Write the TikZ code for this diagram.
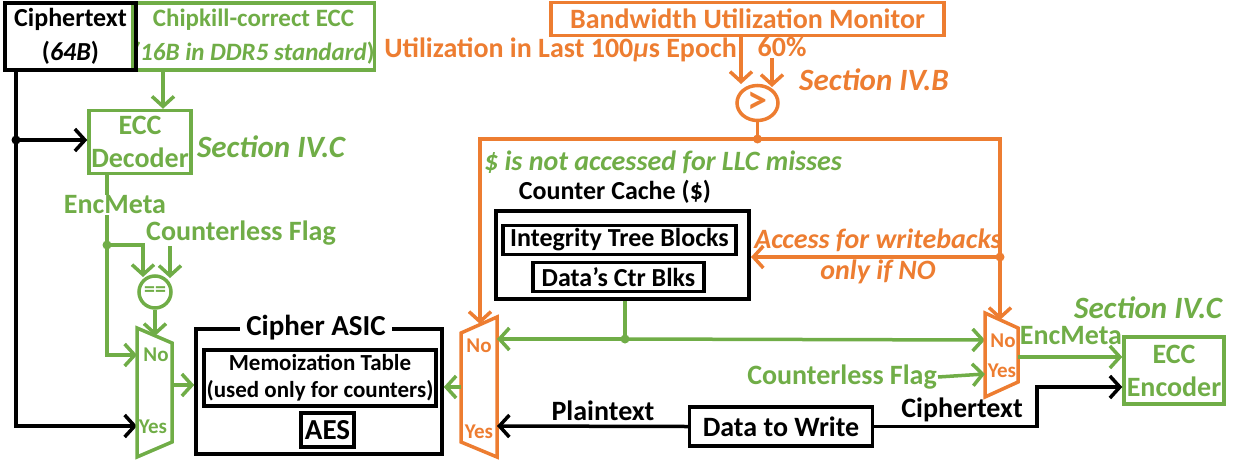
\documentclass[tikz,border=0pt]{standalone}
\usepackage{fontspec}
\setmainfont{Carlito}
\usetikzlibrary{arrows.meta,shapes.geometric}
\definecolor{grn}{HTML}{70AD47}
\definecolor{org}{HTML}{ED7D31}
\begin{document}
\begin{tikzpicture}[x=1pt,y=-1pt,
  lw/.style={line width=3.5pt},
  arr/.style={lw,-{Straight Barb[length=10pt,width=22pt]}},
  fA/.style={font=\bfseries\fontsize{28}{33}\selectfont},
  fC/.style={font=\bfseries\fontsize{26}{34}\selectfont},
  fB/.style={font=\bfseries\fontsize{26}{28}\selectfont},
  fM/.style={font=\bfseries\fontsize{23}{27}\selectfont},
  fI/.style={font=\bfseries\itshape\fontsize{28}{32}\selectfont},
  fSec/.style={font=\bfseries\itshape\fontsize{31}{33}\selectfont},
  fS/.style={font=\bfseries\fontsize{21}{23}\selectfont},
  box/.style={draw, lw, inner sep=0pt, align=center, fA},
  lbl/.style={inner sep=1pt, align=center},
  dot/.style={circle, fill, inner sep=0pt, minimum size=9pt}
]
\useasboundingbox (0,0) rectangle (1233,461);

% ---------- top left ----------
\node[box, fC, draw=grn, text=grn, minimum width=231pt, minimum height=67pt, font=\bfseries\fontsize{25}{34}\selectfont] (chip) at (253.5,36.5)
  {Chipkill-correct ECC\\{\itshape (16B in DDR5 standard})};
\node[box, fC, line width=4.5pt, minimum width=131pt, minimum height=67pt] (ct) at (70.5,36.5)
  {Ciphertext\\(\textit{64B})};
\node[box, draw=grn, text=grn, minimum width=102pt, minimum height=63pt] (dec) at (140,142) {ECC\\Decoder};
\node[lbl, fSec, text=grn] (secC1) at (271,147) {Section IV.C};

\draw[arr, grn] (chip.south -| 163,0) -- (dec.north -| 163,0);

\coordinate (j1) at (16,140);
\coordinate (mlYes) at (137,426);
\coordinate (mlNo) at (137,355);
\coordinate (mlOut) at (172,385);
\draw[arr] (ct.south -| j1) -- (16,426) -- (mlYes);
\node[dot] (j1d) at (j1) {};
\draw[arr] (j1) -- (dec.west |- j1);

\coordinate (j2) at (107,245);
\draw[lw, grn] (dec.south -| j2) -- (j2);
\node[lbl, fA, text=grn, fill=white] (em1) at (115,205) {EncMeta};
\node[lbl, fA, text=grn, fill=white] (cf1) at (241,233) {Counterless Flag};
\node[dot, grn] (j2d) at (j2) {};
\node[circle, draw=grn, lw, minimum size=32pt, inner sep=0pt, text=grn, font=\bfseries\fontsize{22}{22}\selectfont] (eq) at (155,292) {==};
\draw[arr, grn] (j2) -- (143,245) -- (143,277);
\draw[arr, grn] (cf1.south -| 170,0) -- (170,278);
\draw[arr, grn] (j2) |- (mlNo);
\draw[arr, grn] (eq.south) -- (155,336);

% left mux (green)
\draw[grn, lw] (137,328) -- (172,343) -- (172,442) -- (137,457) -- cycle;
\node[lbl, fS, text=grn] (mlNoT) at (156,355) {No};
\node[lbl, fS, text=grn] (mlYesT) at (153,427) {Yes};

% Cipher ASIC
\node[box, minimum width=246pt, minimum height=125pt] (asic) at (319,391.5) {};
\node[lbl, fA, fill=white, inner sep=6pt, font=\bfseries\fontsize{29}{33}\selectfont] (asicT) at (316,328) {Cipher ASIC};
\node[box, fM, minimum width=232pt, minimum height=56pt] (memo) at (320,378)
  {Memoization Table\\(used only for counters)};
\node[box, minimum width=53pt, minimum height=34pt, font=\bfseries\fontsize{29}{33}\selectfont] (aes) at (327.5,430) {AES};
\draw[arr, grn] (mlOut) -- (asic.west |- mlOut);

% middle orange mux
\draw[org, lw] (461,333) -- (497,317) -- (497,457) -- (461,442) -- cycle;
\coordinate (mmTop) at (480,324);
\coordinate (mmNo) at (497,339);
\coordinate (mmYes) at (497,426);
\coordinate (mmOut) at (461,387);
\node[lbl, fS, text=org] (mmNoT) at (479,346) {No};
\node[lbl, fS, text=org] (mmYesT) at (479,432) {Yes};
\draw[arr, grn] (mmOut) -- (asic.east |- mmOut);

% monitor
\node[box, draw=org, text=org, minimum width=393pt, minimum height=33pt] (mon) at (747.5,19) {Bandwidth Utilization Monitor};
\node[lbl, fA, text=org, anchor=east] (util) at (738,50) {Utilization in Last 100{\itshape μ}s Epoch};
\node[lbl, fA, text=org] (pct) at (782,47) {60\%};
\node[ellipse, draw=org, lw, minimum width=41pt, minimum height=35pt, inner sep=0pt, text=org] (gt) at (757.5,103) {};
\node[text=org, inner sep=0pt, font=\bfseries\fontsize{40}{40}\selectfont] (gtT) at (gt.center) {>};
\node[lbl, fSec, text=org] (secB) at (874,80) {Section IV.B};
\draw[arr, org] (mon.south -| 741,0) -- (741,84);
\draw[arr, org] (pct.south -| 772,0) -- (772,87);

\coordinate (jt) at (757.5,139);
\coordinate (mrTop) at (1000,320);
\draw[lw, org] (gt.south) -- (jt);
\draw[arr, org] (jt) -| (mmTop);
\draw[arr, org] (jt) -| (mrTop);
\node[dot, org] (jtd) at (jt) {};

\node[lbl, fI, text=grn] (llc) at (663,162) {\$ is not accessed for LLC misses};

% counter cache
\node[lbl, fB] (ccT) at (615,192) {Counter Cache (\$)};
\node[box, line width=4pt, minimum width=253pt, minimum height=88pt] (cc) at (622.5,255) {};
\node[box, fB, minimum width=233pt, minimum height=29pt] (itb) at (619.5,240) {Integrity Tree Blocks};
\node[box, fB, minimum width=171pt, minimum height=29pt] (dcb) at (618.5,277) {Data’s Ctr Blks};

\coordinate (j4) at (1000,257);
\node[lbl, fI, text=org] (acc1) at (878,240) {Access for writebacks};
\node[lbl, fI, text=org] (acc2) at (878,272) {only if NO};
\draw[arr, org] (j4) -- (cc.east |- j4);
\node[dot, org] (j4d) at (j4) {};

\coordinate (j5) at (625,339);
\coordinate (mrNo) at (985,340);
\draw[lw, grn] (cc.south -| j5) -- (j5);
\draw[arr, grn] (j5) -- (mmNo);
\draw[arr, grn] (j5) -- (mrNo);
\node[dot, grn] (j5d) at (j5) {};

% right orange mux
\draw[org, lw] (985,313) -- (1018,328) -- (1018,382) -- (985,397) -- cycle;
\coordinate (mrYes) at (985,374);
\coordinate (mrOut) at (1018,357);
\node[lbl, fS, text=org] (mrNoT) at (1003,341) {No};
\node[lbl, fS, text=org] (mrYesT) at (1002,371) {Yes};
\node[lbl, fA, text=grn, anchor=east] (cf2) at (938,377) {Counterless Flag};
\draw[arr, grn] (cf2.east) -- (mrYes);

\node[box, draw=grn, text=grn, minimum width=100pt, minimum height=67pt] (enc) at (1174,370.5) {ECC\\Encoder};
\node[lbl, fA, text=grn] (em2) at (1071,336) {EncMeta};
\node[lbl, fSec, text=grn] (secC2) at (1148,308) {Section IV.C};
\draw[arr, grn] (mrOut) -- (enc.west |- mrOut);

% data to write
\node[box, minimum width=183pt, minimum height=39pt] (dtw) at (781,426.5) {Data to Write};
\node[lbl, fA] (pl) at (603,411) {Plaintext};
\node[lbl, fA] (ct2) at (962,410) {Ciphertext};
\draw[arr] (dtw.west) -- (mmYes);
\coordinate (cb) at (1037,387);
\draw[arr] (dtw.east) -| (cb) -- (enc.west |- cb);
\end{tikzpicture}
\end{document}
